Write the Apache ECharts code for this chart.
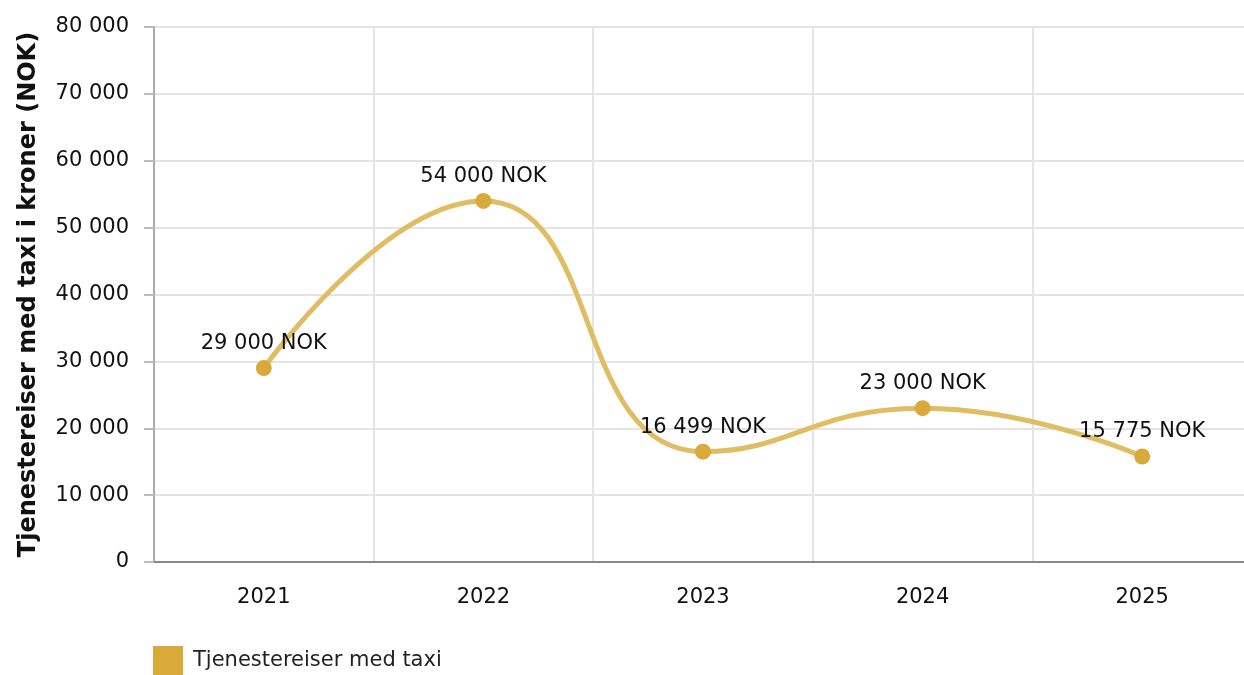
<!DOCTYPE html>
<html><head><meta charset="utf-8">
<script src="https://cdn.jsdelivr.net/npm/echarts@6/dist/echarts.min.js"></script>
<style>html,body{margin:0;padding:0;background:#fff;overflow:hidden}#c{width:1252px;height:675px}</style>
</head><body><div id="c"></div>
<script>
const categories = ['2021','2022','2023','2024','2025'];
const values = [29000, 54000, 16499, 23000, 15775];
const seriesName = 'Tjenestereiser med taxi';
const yTitle = 'Tjenestereiser med taxi i kroner (NOK)';
const fmt = v => String(Math.round(v)).replace(/\B(?=(\d{3})+(?!\d))/g, ' ');
const FONT = 'DejaVu Sans';
const chart = echarts.init(document.getElementById('c'), null, {renderer:'canvas'});
chart.setOption({
  animation: false,
  textStyle: {fontFamily: FONT},
  grid: {left: 154, right: 0, top: 27, bottom: 113, containLabel: false},
  legend: {
    left: 153, top: 646, padding: 0, itemWidth: 30, itemHeight: 30, icon: 'rect',
    itemGap: 10,
    textStyle: {fontFamily: FONT, fontSize: 21, color: '#222', padding: [5, 0, 0, 5]},
    data: [{name: seriesName, itemStyle: {color: '#d9a93a'}}]
  },
  xAxis: {
    type: 'category', data: categories, boundaryGap: true,
    axisLine: {lineStyle: {color: '#888', width: 2}},
    axisTick: {alignWithLabel: true, length: 8, lineStyle: {color: '#aaa', width: 2}},
    axisLabel: {fontFamily: FONT, fontSize: 21, color: '#111', margin: 25},
    splitLine: {show: true, lineStyle: {color: '#e4e4e4', width: 2}}
  },
  yAxis: {
    type: 'value', min: 0, max: 80000, interval: 10000,
    name: yTitle, nameLocation: 'middle', nameGap: 113, nameRotate: 90,
    nameTextStyle: {fontFamily: FONT, fontSize: 24, fontWeight: 'bold', color: '#111'},
    axisLine: {show: true, lineStyle: {color: '#aaa', width: 2}},
    axisTick: {show: true, length: 10, lineStyle: {color: '#bbb', width: 2}},
    axisLabel: {fontFamily: FONT, fontSize: 21, color: '#111', margin: 25, formatter: v => fmt(v)},
    splitLine: {lineStyle: {color: '#e4e4e4', width: 2}}
  },
  series: [{
    name: seriesName, type: 'line', data: values, smooth: 0.5,
    symbol: 'circle', symbolSize: 16,
    lineStyle: {color: '#e0bc63', width: 5},
    itemStyle: {color: '#d9a93a'},
    label: {show: true, position: 'top', distance: 6, fontFamily: FONT, fontSize: 21, color: '#111',
      formatter: p => fmt(p.value) + ' NOK'}
  }]
});
</script></body></html>
